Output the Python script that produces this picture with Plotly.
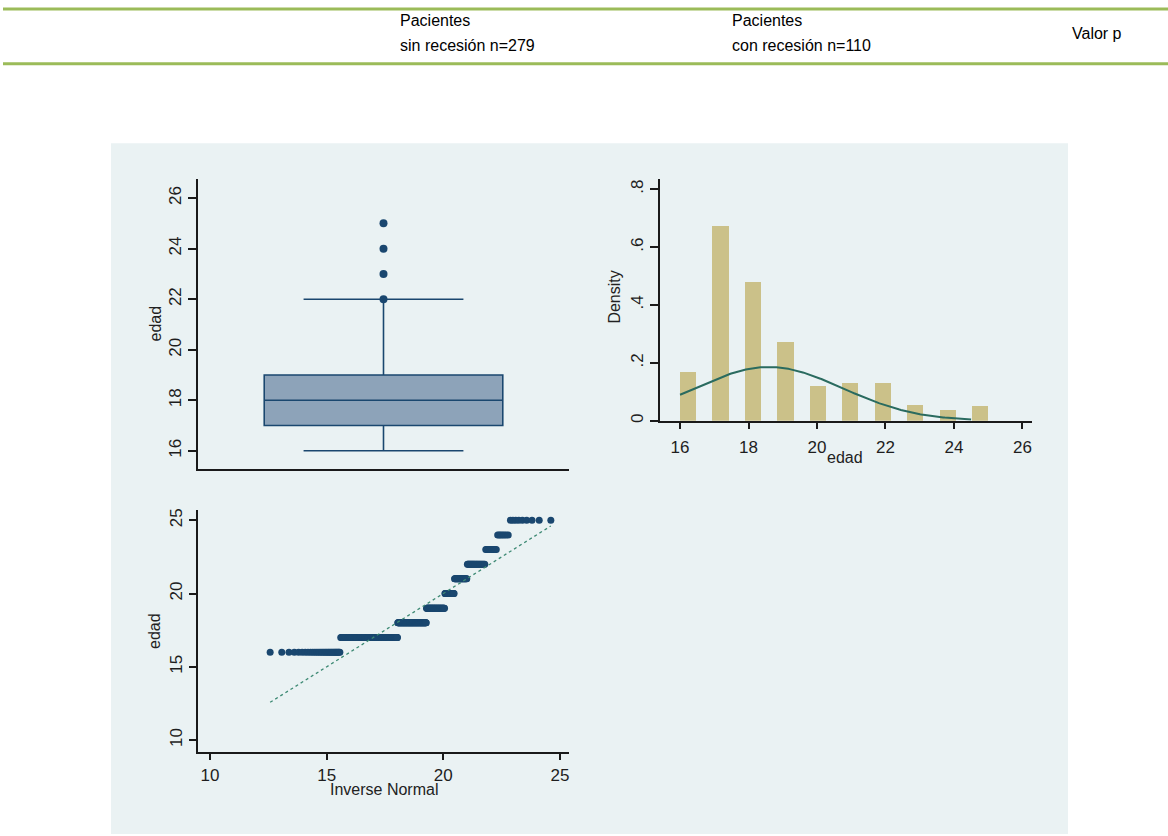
import plotly.graph_objects as go
from statistics import NormalDist
import numpy as np

# ---------------- data ----------------
header_col1 = ["Pacientes", "sin recesión n=279"]
header_col2 = ["Pacientes", "con recesión n=110"]
header_col3 = "Valor p"

ages = [16, 17, 18, 19, 20, 21, 22, 23, 24, 25]
counts = [31, 124, 88, 50, 22, 24, 24, 10, 7, 9]

# box plot summary
box_q1 = 17
box_median = 18
box_q3 = 19
box_lower = 16
box_upper = 22
box_outside = [22, 23, 24, 25]

box_yticks = [16, 18, 20, 22, 24, 26]
hist_xticks = [16, 18, 20, 22, 24, 26]
hist_yticks = [0, 0.2, 0.4, 0.6, 0.8]
hist_yticktext = ["0", ".2", ".4", ".6", ".8"]
qq_xticks = [10, 15, 20, 25]
qq_yticks = [10, 15, 20, 25]

# histogram binning (Stata default: 19 bins over data range)
bin_start, bin_end, n_bins = 16, 25, 19

# ---------------- derived ----------------
values = np.repeat(ages, counts).astype(float)
N = len(values)
mean = values.mean()
sd = values.std(ddof=1)
bw = (bin_end - bin_start) / n_bins
bin_idx = [min(int((a - bin_start) / bw), n_bins - 1) for a in ages]
bar_x = [bin_start + (k + 0.5) * bw for k in bin_idx]
bar_y = [c / (N * bw) for c in counts]

nd = NormalDist(mean, sd)
curve_x = np.linspace(bin_start, 24.5, 200)
curve_y = [nd.pdf(v) for v in curve_x]

qq_y = np.sort(values)
qq_x = [nd.inv_cdf(i / (N + 1)) for i in range(1, N + 1)]

# ---------------- layout helpers ----------------
W, H = 1168, 836
def fx(p): return p / W
def fy(p): return 1 - p / H

NAVY = "#1A476F"
AXC = "#1a1a1a"
GRID = "#EAF2F3"
REGION = "#EAF2F3"
FONT = "Liberation Sans, Arial, sans-serif"
TF = dict(family=FONT, size=17, color="#1e1e1e")

fig = go.Figure()

# box plot
fig.add_trace(go.Box(
    x=[0.5], q1=[box_q1], median=[box_median], q3=[box_q3],
    lowerfence=[box_lower], upperfence=[box_upper],
    width=0.643, whiskerwidth=0.67,
    fillcolor="#8DA3B9", line=dict(color=NAVY, width=1.6),
    boxpoints=False, xaxis="x", yaxis="y", showlegend=False))
fig.add_trace(go.Scatter(
    x=[0.5] * len(box_outside), y=box_outside, mode="markers",
    marker=dict(color=NAVY, size=8), xaxis="x", yaxis="y", showlegend=False))

# histogram
fig.add_trace(go.Bar(
    x=bar_x, y=bar_y, width=bw, marker=dict(color="#CBC189", line=dict(width=0)),
    xaxis="x2", yaxis="y2", showlegend=False))
fig.add_trace(go.Scatter(
    x=curve_x, y=curve_y, mode="lines", line=dict(color="#2A6B5F", width=2),
    xaxis="x2", yaxis="y2", showlegend=False))

# qnorm
fig.add_trace(go.Scatter(
    x=qq_x, y=qq_y, mode="markers", marker=dict(color=NAVY, size=7),
    xaxis="x3", yaxis="y3", showlegend=False))
fig.add_trace(go.Scatter(
    x=[qq_x[0], qq_x[-1]], y=[qq_x[0], qq_x[-1]], mode="lines",
    line=dict(color="#3E8A74", width=1.3, dash="dot"),
    xaxis="x3", yaxis="y3", showlegend=False))

common = dict(showline=True, linecolor=AXC, linewidth=1.5, zeroline=False,
              tickfont=TF, tickcolor=AXC, tickwidth=1.5, fixedrange=True)

fig.update_layout(
    width=W, height=H, margin=dict(l=0, r=0, t=0, b=0),
    paper_bgcolor="white", plot_bgcolor="white",
    font=dict(family=FONT, color="#222222"),
    bargap=0,
    xaxis=dict(domain=[fx(198), fx(569)], anchor="y", range=[0, 1],
               showticklabels=False, ticks="", showgrid=False, **common),
    yaxis=dict(domain=[fy(469), fy(178)], anchor="x", range=[15.29, 26.75],
               tickvals=box_yticks, tickangle=-90, ticks="outside", ticklen=8,
               showgrid=True, gridcolor=GRID, gridwidth=1.5, **common),
    xaxis2=dict(domain=[fx(660), fx(1031.7)], anchor="y2", range=[15.415, 26.27],
                tickvals=hist_xticks, ticks="outside", ticklen=7, showgrid=False,
                ticklabelstandoff=3, **common),
    yaxis2=dict(domain=[fy(420.7), fy(178)], anchor="x2", range=[0, 0.835],
                tickvals=hist_yticks, ticktext=hist_yticktext, tickangle=-90,
                ticks="outside", ticklen=8, showgrid=True, gridcolor=GRID,
                gridwidth=1.5, **common),
    xaxis3=dict(domain=[fx(198.3), fx(569.3)], anchor="y3", range=[9.5, 25.4],
                tickvals=qq_xticks, ticks="outside", ticklen=7, showgrid=False,
                ticklabelstandoff=0, **common),
    yaxis3=dict(domain=[fy(753.3), fy(510.7)], anchor="x3", range=[9.21, 25.68],
                tickvals=qq_yticks, tickangle=-90, ticks="outside", ticklen=8,
                showgrid=False, **common),
)

shapes = [
    dict(type="rect", xref="paper", yref="paper", x0=fx(111), x1=fx(1068),
         y0=fy(836), y1=fy(142), fillcolor=REGION, line=dict(width=0), layer="below"),
    dict(type="line", xref="paper", yref="paper", x0=fx(3), x1=1, y0=fy(7), y1=fy(7),
         line=dict(color="#9BBB59", width=3)),
    dict(type="line", xref="paper", yref="paper", x0=fx(3), x1=1, y0=fy(62), y1=fy(62),
         line=dict(color="#9BBB59", width=3)),
]
fig.update_layout(shapes=shapes)

HF = dict(family=FONT, size=16, color="#000000")
ann = [
    dict(x=fx(398), y=fy(19), text=header_col1[0]),
    dict(x=fx(398), y=fy(44), text=header_col1[1]),
    dict(x=fx(730), y=fy(19), text=header_col2[0]),
    dict(x=fx(730), y=fy(44), text=header_col2[1]),
    dict(x=fx(1070), y=fy(32), text=header_col3),
]
annotations = [dict(a, xref="paper", yref="paper", xanchor="left", yanchor="middle",
                    showarrow=False, font=HF) for a in ann]
AF = dict(family=FONT, size=16, color="#222222")
annotations += [
    dict(x=fx(155), y=fy(323), text="edad", textangle=-90),
    dict(x=fx(615), y=fy(297), text="Density", textangle=-90),
    dict(x=fx(845), y=fy(458), text="edad"),
    dict(x=fx(155), y=fy(632), text="edad", textangle=-90),
    dict(x=fx(384), y=fy(791), text="Inverse Normal"),
]
for a in annotations[5:]:
    a.update(xref="paper", yref="paper", xanchor="center", yanchor="middle",
             showarrow=False, font=AF)
fig.update_layout(annotations=annotations)

fig.write_html("out.html")
